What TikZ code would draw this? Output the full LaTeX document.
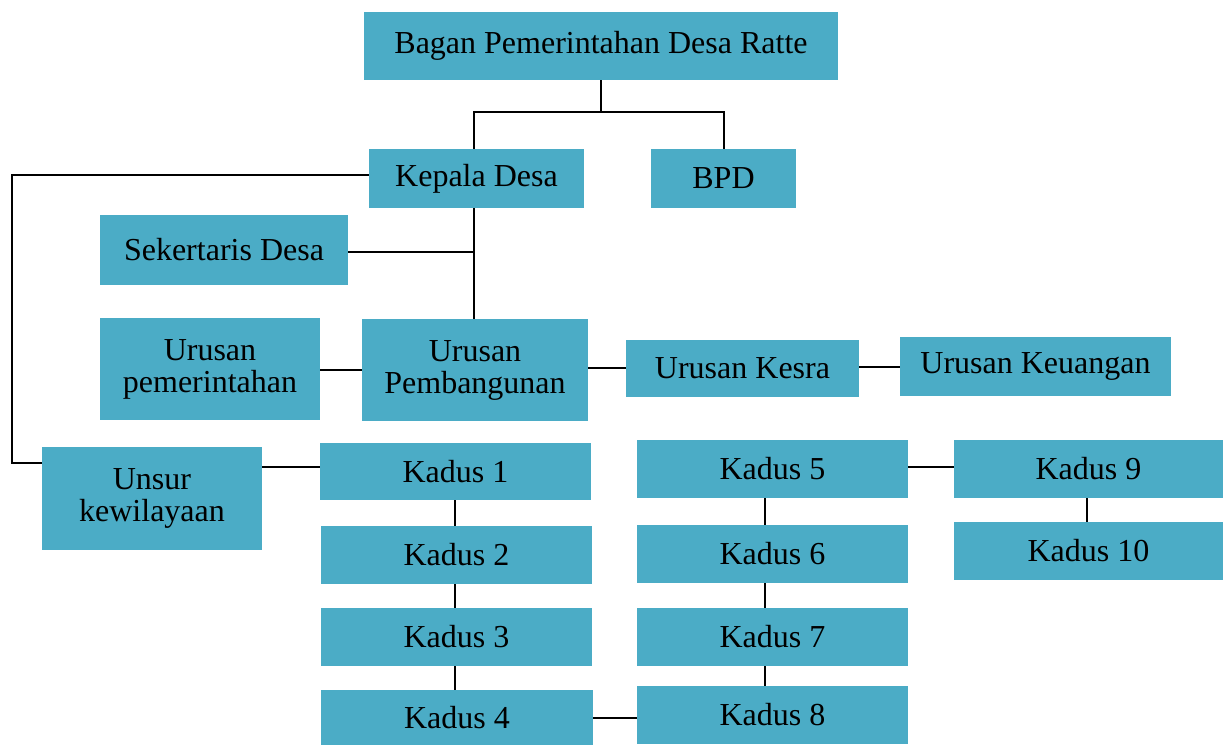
\documentclass[tikz,border=0pt]{standalone}
\usepackage{fontspec}
\setmainfont{Liberation Serif}
\definecolor{boxc}{HTML}{4BACC6}
\begin{document}
\begin{tikzpicture}[x=1pt,y=-1pt,
  box/.style={fill=boxc,draw=none,inner sep=0pt,align=center,font=\fontsize{32}{32}\selectfont},
  conn/.style={line width=1.6pt,black}]
\useasboundingbox (0,0) rectangle (1224,745);
\newcommand\bx[6]{\node[box,minimum width={#4-#2},minimum height={#5-#3}] (#1) at ({(#2+#4)/2},{(#3+#5)/2}) {#6};}
\bx{title}{364}{12}{838}{80}{Bagan Pemerintahan Desa Ratte}
\bx{kd}{369}{149}{584}{208}{Kepala Desa}
\bx{bpd}{651}{149}{796}{208}{BPD}
\bx{sek}{100}{215}{348}{285}{Sekertaris Desa}
\bx{upem}{100}{318}{320}{420}{Urusan\\pemerintahan}
\bx{upb}{362}{319}{588}{421}{Urusan\\Pembangunan}
\bx{uks}{626}{340}{859}{397}{Urusan Kesra}
\bx{uku}{900}{337}{1171}{396}{Urusan Keuangan}
\bx{unsur}{42}{447}{262}{550}{Unsur\\kewilayaan}
\bx{k1}{320}{443}{591}{500}{Kadus 1}
\bx{k2}{321}{526}{592}{584}{Kadus 2}
\bx{k3}{321}{608}{592}{666}{Kadus 3}
\bx{k4}{321}{690}{593}{745}{Kadus 4}
\bx{k5}{637}{440}{908}{498}{Kadus 5}
\bx{k6}{637}{525}{908}{583}{Kadus 6}
\bx{k7}{637}{608}{908}{666}{Kadus 7}
\bx{k8}{637}{686}{908}{744}{Kadus 8}
\bx{k9}{954}{440}{1223}{498}{Kadus 9}
\bx{k10}{954}{522}{1223}{580}{Kadus 10}
\coordinate (j1) at (601,112);
\coordinate (j2) at (474,252);
\coordinate (lc) at (12,175);
\draw[conn] (title.south) -- (j1);
\draw[conn] (kd.north -| 474,0) |- (j1) -| (bpd.north -| 724,0);
\draw[conn] (kd.west |- lc) -- (lc) |- (unsur.west |- 0,463);
\draw[conn] (kd.south -| j2) -- (upb.north -| j2);
\draw[conn] (sek.east |- j2) -- (j2);
\draw[conn] (upem.east |- 0,370) -- (upb.west |- 0,370);
\draw[conn] (upb.east |- 0,368) -- (uks.west |- 0,368);
\draw[conn] (uks.east |- 0,367) -- (uku.west |- 0,367);
\draw[conn] (unsur.east |- 0,467) -- (k1.west |- 0,467);
\draw[conn] (k1.south -| 455,0) -- (k2.north -| 455,0);
\draw[conn] (k2.south -| 455,0) -- (k3.north -| 455,0);
\draw[conn] (k3.south -| 455,0) -- (k4.north -| 455,0);
\draw[conn] (k4.east |- 0,718) -- (k8.west |- 0,718);
\draw[conn] (k5.south -| 765,0) -- (k6.north -| 765,0);
\draw[conn] (k6.south -| 765,0) -- (k7.north -| 765,0);
\draw[conn] (k7.south -| 765,0) -- (k8.north -| 765,0);
\draw[conn] (k5.east |- 0,467) -- (k9.west |- 0,467);
\draw[conn] (k9.south -| 1087,0) -- (k10.north -| 1087,0);
\end{tikzpicture}
\end{document}
